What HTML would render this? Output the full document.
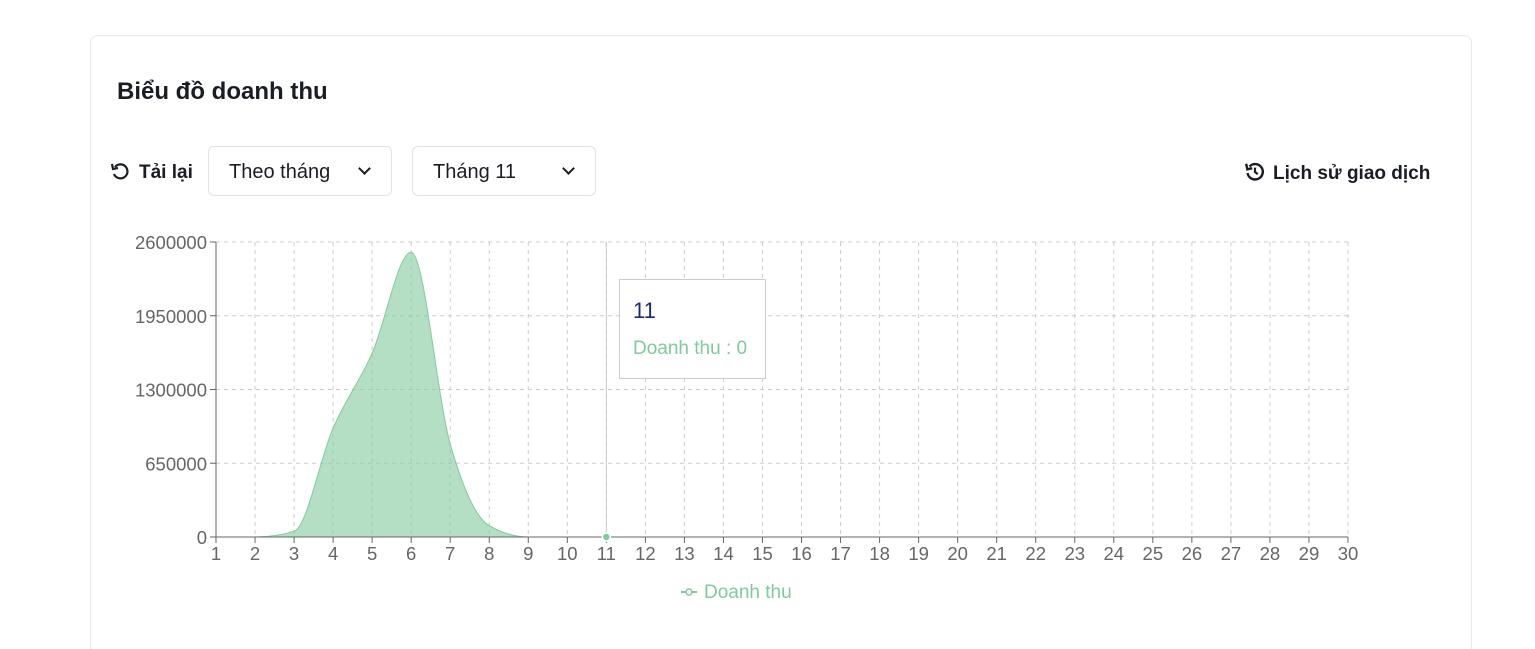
<!DOCTYPE html>
<html style="overflow:hidden;height:649px"><head><meta charset="utf-8"><style>
body{margin:0;width:1535px;height:649px;background:#fff;font-family:"Liberation Sans",sans-serif;overflow:hidden;position:relative}
.card{position:absolute;left:90px;top:35px;width:1382px;height:640px;border:1px solid #e6e8ec;border-radius:8px;box-sizing:border-box}
.title{position:absolute;left:117px;top:78px;font-size:24px;font-weight:bold;color:#1a1d24}
.btn{position:absolute;font-size:19px;color:#1a1d24}
.sel{position:absolute;top:146px;height:50px;border:1px solid #dfe2e8;border-radius:6px;box-sizing:border-box;font-size:20px;color:#1a1d24;line-height:51px;padding-left:20px}
.chev{position:absolute;right:22px;top:17px;width:7px;height:7px;border-right:2px solid #1a1d24;border-bottom:2px solid #1a1d24;transform:rotate(45deg)}
</style></head><body>
<div class="card"></div>
<div class="title">Biểu đồ doanh thu</div>
<div class="btn" style="left:110px;top:161px;font-weight:bold">
<svg width="20" height="20" viewBox="0 0 20 20" style="vertical-align:-3px;margin-right:9px"><path d="M5 6 A7 7 0 1 1 4 13" fill="none" stroke="#1a1d24" stroke-width="2.2"/><path d="M2 3 L3 8 L8 7" fill="none" stroke="#1a1d24" stroke-width="2.2"/></svg>Tải lại</div>
<div class="sel" style="left:208px;width:184px">Theo tháng<span class="chev"></span></div>
<div class="sel" style="left:412px;width:184px">Tháng 11<span class="chev"></span></div>
<div class="btn" style="left:1244px;top:161px;font-weight:bold">
<svg width="22" height="22" viewBox="0 0 20 20" style="vertical-align:-4px;margin-right:7px"><path d="M5 5 A7 7 0 1 1 3.2 11" fill="none" stroke="#1a1d24" stroke-width="2.2"/><path d="M2 2.5 L3 7.5 L7.5 6.5" fill="none" stroke="#1a1d24" stroke-width="2.2"/><path d="M10 6 V10 L12.5 12" fill="none" stroke="#1a1d24" stroke-width="2"/></svg>Lịch sử giao dịch</div>
<svg id="chart" width="1535" height="649" style="position:absolute;left:0;top:0"></svg>
<script>
const days=[];for(let i=1;i<=30;i++)days.push(i);
const revenue=[0,0,50000,960000,1620000,2510000,820000,100000,0,0,0,0,0,0,0,0,0,0,0,0,0,0,0,0,0,0,0,0,0,0];
const yTicks=[0,650000,1300000,1950000,2600000];
const NS="http://www.w3.org/2000/svg";
const svg=document.getElementById('chart');
const X0=216,X1=1348,Y0=537,Y1=242,YMAX=2600000;
const xs=d=>X0+(d-1)*(X1-X0)/29;
const ys=v=>Y0-v/YMAX*(Y0-Y1);
function el(t,a,p){const e=document.createElementNS(NS,t);for(const k in a)e.setAttribute(k,a[k]);(p||svg).appendChild(e);return e;}
yTicks.forEach(v=>{if(v>0){const l=el('line',{x1:X0,x2:X1,y1:ys(v),y2:ys(v),stroke:'#ccc','stroke-dasharray':'4 4'});

}});
days.forEach(d=>{if(d>1){const l=el('line',{x1:xs(d),x2:xs(d),y1:Y1,y2:Y0,stroke:'#ccc','stroke-dasharray':'4 4'});

}});
const px=days.map(xs),py=revenue.map(ys),n=px.length;
const m=[],t=[];
for(let i=0;i<n-1;i++)m.push((py[i+1]-py[i])/(px[i+1]-px[i]));
for(let i=0;i<n;i++){
 if(i==0||i==n-1){t.push(0);continue;}
 const a=m[i-1],b=m[i];
 if(a*b<=0)t.push(0);else{const h0=px[i]-px[i-1],h1=px[i+1]-px[i];const p=(a*h1+b*h0)/(h0+h1);t.push((Math.sign(a)+Math.sign(b))*Math.min(Math.abs(a),Math.abs(b),0.5*Math.abs(p)));}
}
t[0]=(3*m[0]-t[1])/2;t[n-1]=(3*m[n-2]-t[n-2])/2;
let d=`M${px[0]},${py[0]}`;
for(let i=0;i<n-1;i++){const h=(px[i+1]-px[i])/3;d+=`C${px[i]+h},${py[i]+h*t[i]} ${px[i+1]-h},${py[i+1]-h*t[i+1]} ${px[i+1]},${py[i+1]}`;}
const area=el('path',{d:d+`L${px[n-1]},${Y0}L${px[0]},${Y0}Z`,fill:'#82ca9d','fill-opacity':0.6});


const line=el('path',{d:d,fill:'none',stroke:'#82ca9d','stroke-width':1});


el('line',{x1:X0,x2:X0,y1:Y1,y2:Y0,stroke:'#666'});
el('line',{x1:X0,x2:X1,y1:Y0,y2:Y0,stroke:'#666'});
yTicks.forEach(v=>{el('line',{x1:X0-6,x2:X0,y1:ys(v),y2:ys(v),stroke:'#666'});
const tx=el('text',{x:X0-9,y:ys(v)+7,'text-anchor':'end','font-size':18.5,fill:'#666','font-family':'Liberation Sans'});tx.textContent=v;

});
days.forEach(dd=>{el('line',{x1:xs(dd),x2:xs(dd),y1:Y0,y2:Y0+6,stroke:'#666'});
const tx=el('text',{x:xs(dd),y:Y0+23,'text-anchor':'middle','font-size':18.5,fill:'#666','font-family':'Liberation Sans'});tx.textContent=dd;

});
const sel=11;
el('line',{x1:xs(sel),x2:xs(sel),y1:Y1,y2:Y0,stroke:'#ccc'});
const dot=el('circle',{cx:xs(sel),cy:ys(revenue[sel-1]),r:4,fill:'#82ca9d',stroke:'#fff','stroke-width':1.5});


const tip=el('g',{});


el('rect',{x:619.5,y:279.5,width:146,height:99,fill:'#fff',stroke:'#ccc'},tip);
const t1=el('text',{x:633,y:318,'font-size':22,fill:'#1f2a6b','font-family':'Liberation Sans'},tip);t1.textContent=sel;
const t2=el('text',{x:633,y:354,'font-size':19,fill:'#82ca9d','font-family':'Liberation Sans'},tip);t2.textContent='Doanh thu : '+revenue[sel-1];
const lg=el('g',{});


el('line',{x1:681,x2:697,y1:592,y2:592,stroke:'#82ca9d','stroke-width':2},lg);
el('circle',{cx:689,cy:592,r:3,fill:'#fff',stroke:'#82ca9d','stroke-width':1.5},lg);
const lt=el('text',{x:704,y:598,'font-size':19,fill:'#82ca9d','font-family':'Liberation Sans'},lg);lt.textContent='Doanh thu';
</script>
</body></html>
